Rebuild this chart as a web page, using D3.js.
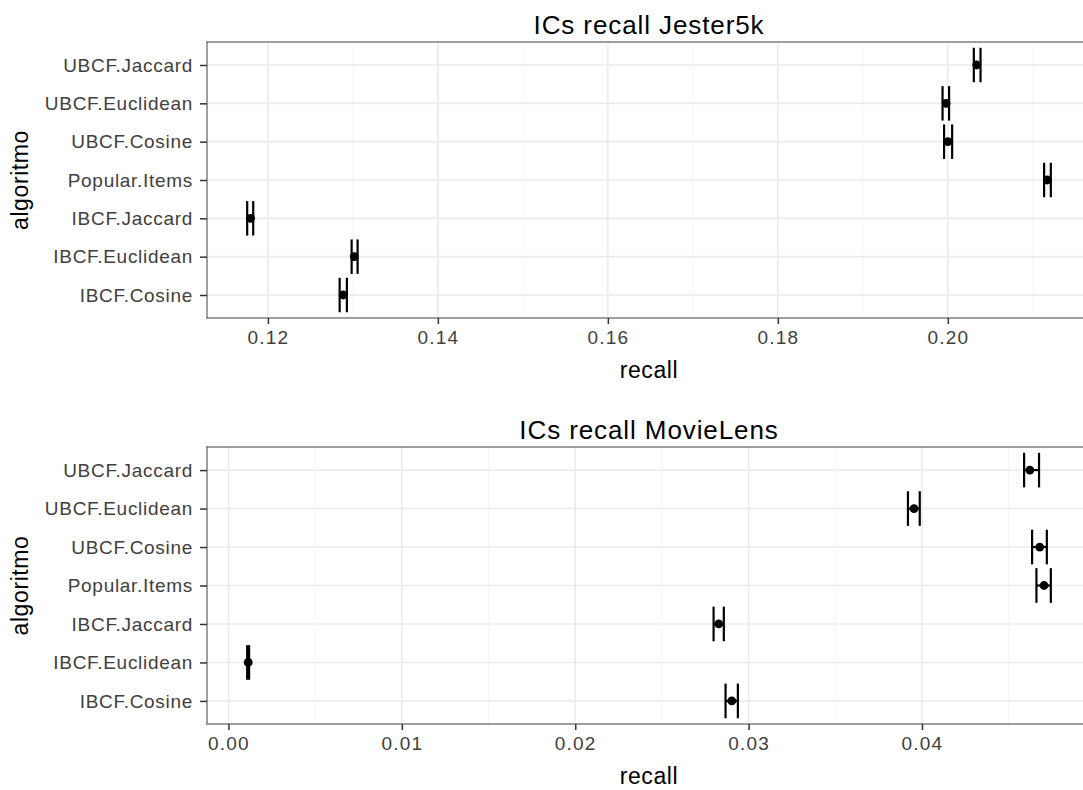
<!DOCTYPE html>
<html>
<head>
<meta charset="utf-8">
<script src="https://cdn.jsdelivr.net/npm/d3@7"></script>
<style>
  html, body { margin: 0; padding: 0; background: #fff; overflow: hidden; }
  svg { display: block; overflow: hidden; }
  text { font-family: "Liberation Sans", Arial, sans-serif; }
</style>
</head>
<body>
<svg id="chart" width="1083" height="790"></svg>
<script>
// ---- data ----
const categories = ["IBCF.Cosine", "IBCF.Euclidean", "IBCF.Jaccard", "Popular.Items",
                    "UBCF.Cosine", "UBCF.Euclidean", "UBCF.Jaccard"];

const jesterMean  = [0.12886, 0.13016, 0.11796, 0.21170, 0.20000, 0.19980, 0.20340];
const jesterLower = [0.12844, 0.12985, 0.11756, 0.21133, 0.19956, 0.19938, 0.20306];
const jesterUpper = [0.12929, 0.13055, 0.11827, 0.21212, 0.20051, 0.20015, 0.20385];

const movieMean  = [0.02903, 0.00114, 0.02828, 0.04704, 0.04679, 0.03954, 0.04622];
const movieLower = [0.02867, 0.00108, 0.02798, 0.04660, 0.04635, 0.03919, 0.04589];
const movieUpper = [0.02938, 0.00119, 0.02857, 0.04743, 0.04720, 0.03987, 0.04675];

const jesterTicks = [0.12, 0.14, 0.16, 0.18, 0.20];
const jesterTickLabels = ["0.12", "0.14", "0.16", "0.18", "0.20"];
const jesterMinor = [0.13, 0.15, 0.17, 0.19, 0.21];
const movieTicks = [0.00, 0.01, 0.02, 0.03, 0.04];
const movieTickLabels = ["0.00", "0.01", "0.02", "0.03", "0.04"];
const movieMinor = [0.005, 0.015, 0.025, 0.035, 0.045];

const titles = ["ICs recall Jester5k", "ICs recall MovieLens"];
const xTitle = "recall";
const yTitle = "algoritmo";

// ---- drawing ----
const svg = d3.select("#chart");

function panel(opts) {
  const { top, bottom, left, right, mean, lower, upper, ticks, tickLabels, minor, title } = opts;
  const g = svg.append("g");

  // ggplot-like 5% expansion of continuous range
  const lo = d3.min(lower), hi = d3.max(upper);
  const pad = (hi - lo) * 0.05;
  const x = d3.scaleLinear().domain([lo - pad, hi + pad]).range([left, right]);
  const y = d3.scalePoint().domain(categories.slice().reverse()).range([top, bottom]).padding(0.6);
  const bandH = y.step() * 0.9;

  // minor vertical grid
  g.selectAll(".minor").data(minor.filter(v => x(v) > left && x(v) < right)).enter().append("line")
    .attr("x1", d => x(d)).attr("x2", d => x(d)).attr("y1", top).attr("y2", bottom)
    .attr("stroke", "#f5f5f5").attr("stroke-width", 1);
  // major vertical grid
  g.selectAll(".majorx").data(ticks).enter().append("line")
    .attr("x1", d => x(d)).attr("x2", d => x(d)).attr("y1", top).attr("y2", bottom)
    .attr("stroke", "#ebebeb").attr("stroke-width", 1.6);
  // major horizontal grid
  g.selectAll(".majory").data(categories).enter().append("line")
    .attr("x1", left).attr("x2", right).attr("y1", d => y(d)).attr("y2", d => y(d))
    .attr("stroke", "#ebebeb").attr("stroke-width", 1.6);

  const rows = categories.map((c, i) => ({ c, m: mean[i], lo: lower[i], hi: upper[i] }));

  // error bars (horizontal with vertical caps)
  const eb = g.selectAll(".eb").data(rows).enter().append("g");
  eb.append("line").attr("x1", d => x(d.lo)).attr("x2", d => x(d.hi))
    .attr("y1", d => y(d.c)).attr("y2", d => y(d.c)).attr("stroke", "#000").attr("stroke-width", 2.2);
  eb.append("line").attr("x1", d => x(d.lo)).attr("x2", d => x(d.lo))
    .attr("y1", d => y(d.c) - bandH / 2).attr("y2", d => y(d.c) + bandH / 2)
    .attr("stroke", "#000").attr("stroke-width", 2.2);
  eb.append("line").attr("x1", d => x(d.hi)).attr("x2", d => x(d.hi))
    .attr("y1", d => y(d.c) - bandH / 2).attr("y2", d => y(d.c) + bandH / 2)
    .attr("stroke", "#000").attr("stroke-width", 2.2);
  // points
  g.selectAll(".pt").data(rows).enter().append("circle")
    .attr("cx", d => x(d.m)).attr("cy", d => y(d.c)).attr("r", 4.4).attr("fill", "#000");

  // panel border (right edge lies outside the picture)
  const border = [[left, top, right, top], [left, bottom, right, bottom], [left, top, left, bottom]];
  g.selectAll(".border").data(border).enter().append("line")
    .attr("x1", d => d[0]).attr("y1", d => d[1]).attr("x2", d => d[2]).attr("y2", d => d[3])
    .attr("stroke", "#7f7f7f").attr("stroke-width", 1.5).attr("stroke-linecap", "square");

  // x axis
  const xAxis = d3.axisBottom(x).tickValues(ticks).tickSize(6).tickPadding(7)
    .tickFormat((d, i) => tickLabels[i]);
  const xg = g.append("g").attr("transform", `translate(0,${bottom})`).call(xAxis);
  xg.select(".domain").remove();
  xg.selectAll(".tick line").attr("stroke", "#333").attr("stroke-width", 1.5);
  xg.selectAll(".tick text").attr("fill", "#404040").style("font-size", "19px")
    .style("letter-spacing", "1.2px").style("font-family", "'Liberation Sans', Arial, sans-serif");

  // y axis
  const yAxis = d3.axisLeft(y).tickSize(7).tickPadding(7);
  const yg = g.append("g").attr("transform", `translate(${left},0)`).call(yAxis);
  yg.select(".domain").remove();
  yg.selectAll(".tick line").attr("stroke", "#333").attr("stroke-width", 1.5);
  yg.selectAll(".tick text").attr("fill", "#404040").style("font-size", "19px")
    .style("letter-spacing", "0.7px").style("font-family", "'Liberation Sans', Arial, sans-serif");

  // titles
  const cx = (left + right) / 2;
  g.append("text").attr("x", cx).attr("y", top - 8).attr("text-anchor", "middle")
    .style("font-size", "26px").style("letter-spacing", "0.9px").attr("fill", "#000").text(title);
  g.append("text").attr("x", cx).attr("y", bottom + 60).attr("text-anchor", "middle")
    .style("font-size", "23px").style("letter-spacing", "0.6px").attr("fill", "#000").text(xTitle);
  g.append("text").attr("transform", `translate(28,${(top + bottom) / 2}) rotate(-90)`)
    .attr("text-anchor", "middle").style("font-size", "23px").style("letter-spacing", "0.6px")
    .attr("fill", "#000").text(yTitle);
}

panel({ top: 42, bottom: 318, left: 207, right: 1091,
        mean: jesterMean, lower: jesterLower, upper: jesterUpper,
        ticks: jesterTicks, tickLabels: jesterTickLabels, minor: jesterMinor, title: titles[0] });
panel({ top: 447, bottom: 724, left: 207, right: 1091,
        mean: movieMean, lower: movieLower, upper: movieUpper,
        ticks: movieTicks, tickLabels: movieTickLabels, minor: movieMinor, title: titles[1] });
</script>
</body>
</html>
